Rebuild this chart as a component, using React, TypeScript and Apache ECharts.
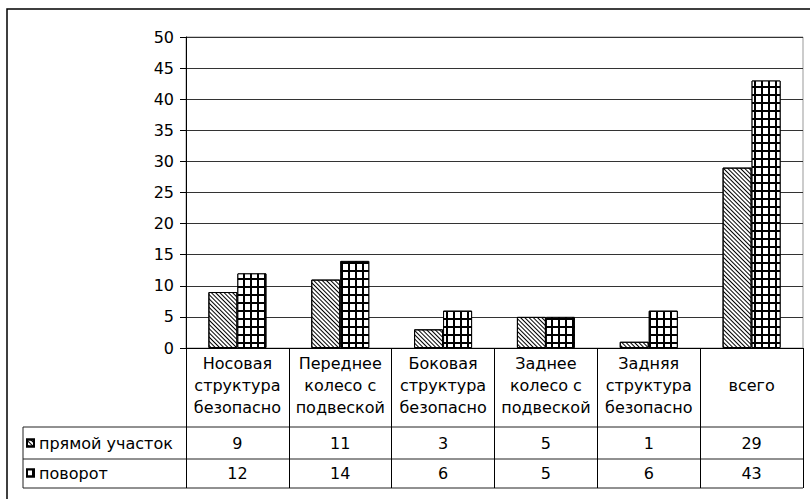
import React, { useEffect, useRef } from "react";
import * as echarts from "echarts";

const categories = [
  "Носовая\nструктура\nбезопасно",
  "Переднее\nколесо с\nподвеской",
  "Боковая\nструктура\nбезопасно",
  "Заднее\nколесо с\nподвеской",
  "Задняя\nструктура\nбезопасно",
  "всего",
];
const seriesNames = ["прямой участок", "поворот"];
const straightValues = [9, 11, 3, 5, 1, 29];
const turnValues = [12, 14, 6, 5, 6, 43];
const yTicks = { min: 0, max: 50, interval: 5 };

const FONT = "'DejaVu Sans', 'Liberation Sans', Arial, sans-serif";

export default function App() {
  const ref = useRef<HTMLDivElement>(null);
  useEffect(() => {
    if (!ref.current) return;
    const chart = echarts.init(ref.current, undefined, { renderer: "svg" });
    const labelBase = { fontFamily: FONT, fontSize: 16, color: "#000" };
    const valueAxis = (vals: number[], margin: number) => ({
      type: "category",
      position: "bottom",
      offset: 0,
      data: vals.map(String),
      axisLine: { show: false },
      axisTick: { show: false },
      splitLine: { show: false },
      axisLabel: { ...labelBase, interval: 0, margin, verticalAlign: "middle", lineHeight: 16 },
    });
    chart.setOption({
      animation: false,
      backgroundColor: "#fff",
      grid: {
        left: 186,
        right: 7,
        top: 37,
        bottom: 151,
        show: true,
        borderColor: "#999",
        borderWidth: 1,
      },
      legend: {
        orient: "vertical",
        left: 26,
        top: 435,
        padding: 0,
        itemWidth: 7,
        itemHeight: 7,
        itemGap: 14,
        icon: "rect",
        selectedMode: false,
        textStyle: { ...labelBase, lineHeight: 16 },
        data: seriesNames,
      },
      xAxis: [
        {
          type: "category",
          position: "bottom",
          data: categories,
          axisLine: { show: true, lineStyle: { color: "#000", width: 1 } },
          axisTick: { show: true, length: 140, interval: 0, lineStyle: { color: "#000", width: 1 } },
          splitLine: { show: false },
          axisLabel: { ...labelBase, interval: 0, margin: 37, lineHeight: 22, verticalAlign: "middle" },
        },
        valueAxis(straightValues, 95),
        valueAxis(turnValues, 125),
      ],
      yAxis: {
        type: "value",
        min: yTicks.min,
        max: yTicks.max,
        interval: yTicks.interval,
        axisLine: { show: true, lineStyle: { color: "#000", width: 1 } },
        axisTick: { show: true, length: 6, lineStyle: { color: "#000" } },
        splitLine: { show: true, lineStyle: { color: "#333", width: 1 } },
        axisLabel: { ...labelBase, margin: 12 },
      },
      series: [
        {
          name: seriesNames[0],
          type: "bar",
          data: straightValues,
          barWidth: 29,
          barGap: "0%",
          itemStyle: {
            color: "#fff",
            borderColor: "#000",
            borderWidth: 1,
            decal: {
              symbol: "rect",
              symbolSize: 1,
              color: "#000",
              dashArrayX: [1, 0],
              dashArrayY: [1, 2],
              rotation: Math.PI / 4,
            },
          },
        },
        {
          name: seriesNames[1],
          type: "bar",
          data: turnValues,
          barWidth: 29,
          barGap: "0%",
          itemStyle: {
            color: "#000",
            borderColor: "#000",
            borderWidth: 1,
            decal: {
              symbol: "rect",
              symbolSize: 1,
              color: "#fff",
              dashArrayX: [5, 2],
              dashArrayY: [6, 2],
              rotation: 0,
            },
          },
        },
      ],
      graphic: [
        {
          type: "rect",
          shape: { x: 7, y: 9, width: 820, height: 520 },
          style: { fill: "none", stroke: "#000", lineWidth: 1.5 },
          silent: true,
        },
        { type: "line", shape: { x1: 23, y1: 427, x2: 803, y2: 427 }, style: { stroke: "#222", lineWidth: 1 } },
        { type: "line", shape: { x1: 23, y1: 459, x2: 803, y2: 459 }, style: { stroke: "#222", lineWidth: 1 } },
        { type: "line", shape: { x1: 23, y1: 488, x2: 803, y2: 488 }, style: { stroke: "#222", lineWidth: 1 } },
        { type: "line", shape: { x1: 23, y1: 427, x2: 23, y2: 488 }, style: { stroke: "#222", lineWidth: 1 } },
      ],
    });
    return () => chart.dispose();
  }, []);
  return (
    <div
      ref={ref}
      style={{ position: "fixed", left: 0, top: 0, width: 810, height: 499 }}
    />
  );
}
